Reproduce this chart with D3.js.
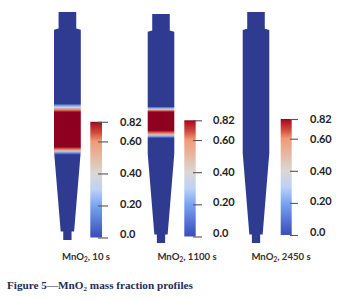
<!DOCTYPE html>
<html>
<head>
<meta charset="utf-8">
<script src="https://cdn.jsdelivr.net/npm/d3@7"></script>
<style>
html, body { margin: 0; padding: 0; background: #fff; }
svg { display: block; }
.tick text { font-family: Lato, sans-serif; font-weight: 700; font-size: 11px; fill: #222; }
.label { font-family: Lato, sans-serif; font-weight: 700; font-size: 9.6px; fill: #333; }
.caption { font-family: "Liberation Serif", serif; font-weight: 700; font-size: 11.2px; fill: #1d2d5e; }
</style>
</head>
<body>
<div id="chart"></div>
<script>
// MnO2 colour bar
const tickValues = [0, 0.2, 0.4, 0.6, 0.82];
const tickLabels = ["0.0", "0.20", "0.40", "0.60", "0.82"];
const colorValues = [0, 0.015, 0.2, 0.3, 0.4, 0.6, 0.7, 0.8, 0.82];
const colorNames = ["#2f3b90", "#3d52bd", "#7aa4f2", "#bcd2f6", "#dbd7d2", "#f19a78", "#cf4a3c", "#ad1224", "#8f0020"];

// vessel outline, axial position in % of height and radius relative to the body
const outlineAxial = [0, 7.2, 7.8, 61, 96.3, 96.3, 100];
const outlineRadius = [0.66, 0.66, 1, 1, 0.5, 0.31, 0.31];

// mass fraction along the vessel for each time
const times = ["10", "1100", "2450"];
const profileAxial = [
    [0, 40.2, 41, 41.8, 43, 43.9, 59.2, 60.2, 61, 61.7, 62.6, 100],
    [0, 40.4, 41, 41.6, 42.1, 42.8, 50.8, 52, 52.8, 53.5, 54.2, 100],
    [0, 100]
];
const profileValues = [
    [0, 0, 0.18, 0.36, 0.64, 0.82, 0.82, 0.64, 0.46, 0.18, 0, 0],
    [0, 0, 0.18, 0.36, 0.64, 0.82, 0.82, 0.64, 0.46, 0.18, 0, 0],
    [0, 0]
];

const width = 354, height = 302;

// each panel: centre of vessel, vessel top/bottom, bar and axis placement
const panels = [
    {cx: 67.4, top: 12, bottom: 240, half: 13.4, barX: 90.3, barW: 11.7, barTop: 121.8, barBottom: 237.5, axisX: 98, tick: 10, pad: 12, labelX: 86},
    {cx: 161, top: 14, bottom: 243, half: 13.3, barX: 184.3, barW: 11.4, barTop: 120.3, barBottom: 236.5, axisX: 193, tick: 9, pad: 11, labelX: 187},
    {cx: 256, top: 12, bottom: 243, half: 13.3, barX: 280.7, barW: 11, barTop: 119, barBottom: 235, axisX: 290, tick: 8, pad: 12, labelX: 281}
];

const color = d3.scaleLinear().domain(colorValues).range(colorNames);

const svg = d3.select("#chart").append("svg")
    .attr("width", width)
    .attr("height", height);

const defs = svg.append("defs");

panels.forEach(function (p, i) {
    const g = svg.append("g");

    const y = d3.scaleLinear().domain([0, 100]).range([p.top, p.bottom]);
    const x = d3.scaleLinear().domain([-1, 1]).range([p.cx - p.half, p.cx + p.half]);

    // gradient for the vessel
    defs.append("linearGradient")
        .attr("id", "vessel" + i)
        .attr("x1", 0).attr("x2", 0).attr("y1", 0).attr("y2", 1)
        .selectAll("stop")
        .data(profileAxial[i])
        .enter().append("stop")
        .attr("offset", d => d / 100)
        .attr("stop-color", (d, j) => color(profileValues[i][j]));

    const area = d3.area()
        .y((d, j) => y(d))
        .x0((d, j) => x(-outlineRadius[j]))
        .x1((d, j) => x(outlineRadius[j]));

    g.append("path")
        .attr("d", area(outlineAxial))
        .attr("fill", "url(#vessel" + i + ")");

    // colour bar, ticks are not evenly spaced in the source
    const barScale = d3.scaleLinear()
        .domain(tickValues)
        .range([0, 0.2767, 0.5535, 0.8302, 1].map(t => p.barBottom + (p.barTop - p.barBottom) * t));

    defs.append("linearGradient")
        .attr("id", "bar" + i)
        .attr("x1", 0).attr("x2", 0).attr("y1", 1).attr("y2", 0)
        .selectAll("stop")
        .data(colorValues.slice(1))
        .enter().append("stop")
        .attr("offset", d => (barScale(d) - p.barBottom) / (p.barTop - p.barBottom))
        .attr("stop-color", d => color(d));

    g.append("rect")
        .attr("x", p.barX)
        .attr("y", p.barTop)
        .attr("width", p.barW)
        .attr("height", p.barBottom - p.barTop)
        .attr("fill", "url(#bar" + i + ")");

    const axis = d3.axisRight(barScale)
        .tickValues(tickValues)
        .tickFormat((d, j) => tickLabels[j])
        .tickSize(p.tick)
        .tickPadding(p.pad);

    const ag = g.append("g")
        .attr("transform", "translate(" + p.axisX + ",0)")
        .call(axis);
    ag.select(".domain").remove();
    ag.selectAll(".tick line").attr("stroke", "#555").attr("stroke-width", 1.1);
    // the lower labels sit a bit above their ticks in the source
    ag.selectAll(".tick text").attr("y", (d, j) => [-3.5, -2, 0, 0, 0][j]);

    // label under the vessel
    const label = g.append("text")
        .attr("class", "label")
        .attr("x", p.labelX)
        .attr("y", 259.5)
        .attr("text-anchor", "middle");
    label.append("tspan").text("MnO");
    label.append("tspan").attr("dy", 2).attr("font-size", 6.5).text("2");
    label.append("tspan").attr("dy", -2).text(", " + times[i] + " s");
});

const caption = svg.append("text")
    .attr("class", "caption")
    .attr("x", 7)
    .attr("y", 289);
caption.append("tspan").text("Figure 5—MnO");
caption.append("tspan").attr("dy", 2).attr("font-size", 7).text("2");
caption.append("tspan").attr("dy", -2).text(" mass fraction profiles");
</script>
</body>
</html>
